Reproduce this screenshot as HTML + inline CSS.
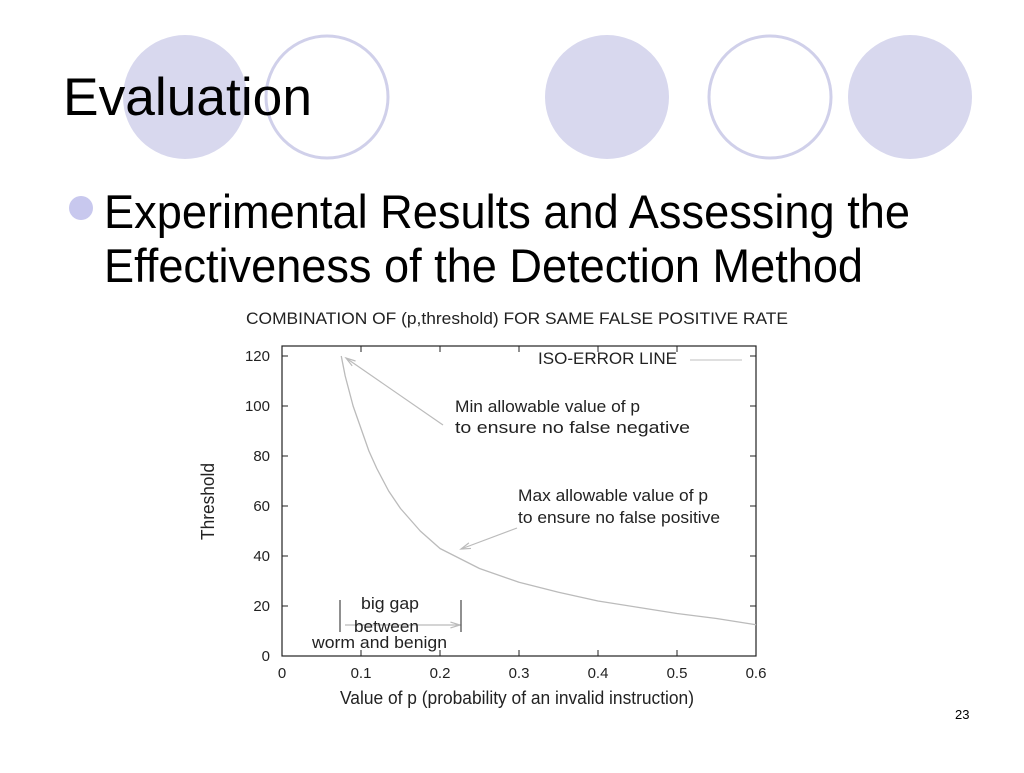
<!DOCTYPE html>
<html><head><meta charset="utf-8"><style>
body{margin:0;width:1024px;height:768px;background:#fff;overflow:hidden;font-family:"Liberation Sans",sans-serif}
</style></head><body>
<svg width="1024" height="768" font-family="Liberation Sans, sans-serif">
<g>
<circle cx="185" cy="97" r="62" fill="#d8d8ee"/>
<circle cx="327" cy="97" r="61" fill="#fff" stroke="#d0d0ea" stroke-width="3"/>
<circle cx="607" cy="97" r="62" fill="#d8d8ee"/>
<circle cx="770" cy="97" r="61" fill="#fff" stroke="#d0d0ea" stroke-width="3"/>
<circle cx="910" cy="97" r="62" fill="#d8d8ee"/>
</g>
<text x="63" y="115" font-size="53" textLength="249" lengthAdjust="spacingAndGlyphs" fill="#000">Evaluation</text>
<circle cx="81" cy="208" r="12" fill="#c8c8ee"/>
<text x="104" y="228" font-size="47" textLength="806" lengthAdjust="spacingAndGlyphs">Experimental Results and Assessing the</text>
<text x="104" y="282" font-size="47" textLength="759" lengthAdjust="spacingAndGlyphs">Effectiveness of the Detection Method</text>
<text x="955" y="719" font-size="13">23</text>
<g id="chart"></g>
</svg>
<script>
const pVals=[0.075,0.08,0.09,0.1,0.11,0.12,0.135,0.15,0.175,0.2,0.25,0.3,0.35,0.4,0.45,0.5,0.55,0.6];
const tVals=[120,112,100,91,82,75,66,59,50,43,35,29.5,25.5,22,19.5,17,15,12.5];
const xTicks=[0,0.1,0.2,0.3,0.4,0.5,0.6];
const yTicks=[0,20,40,60,80,100,120];
const NS="http://www.w3.org/2000/svg";
const L=282,R=756,T=346,B=656;
const X=p=>L+(p/0.6)*(R-L);
const Y=v=>B-(v/124)*(B-T);
const g=document.getElementById('chart');
function mk(tag,at,txt){const e=document.createElementNS(NS,tag);for(const k in at)e.setAttribute(k,at[k]);if(txt!==undefined)e.textContent=txt;g.appendChild(e);return e;}
let e;
e=mk('text',{x:246,y:324,'font-size':17,fill:'#222',textLength:542,lengthAdjust:'spacingAndGlyphs'},'COMBINATION OF (p,threshold) FOR SAME FALSE POSITIVE RATE');


e=mk('rect',{x:L,y:T,width:R-L,height:B-T,fill:'none',stroke:'#222','stroke-width':1.2});


xTicks.forEach(t=>{
 e=mk('line',{x1:X(t),x2:X(t),y1:B,y2:B-6,stroke:'#222'});
 
 
 mk('line',{x1:X(t),x2:X(t),y1:T,y2:T+6,stroke:'#222'});
 e=mk('text',{x:X(t),y:B+22,'font-size':15,'text-anchor':'middle',fill:'#222'},String(t));
 
 
});
yTicks.forEach(t=>{
 e=mk('line',{x1:L,x2:L+6,y1:Y(t),y2:Y(t),stroke:'#222'});
 
 
 mk('line',{x1:R,x2:R-6,y1:Y(t),y2:Y(t),stroke:'#222'});
 e=mk('text',{x:270,y:Y(t)+5,'font-size':15,'text-anchor':'end',fill:'#222'},String(t));
 
 
});
e=mk('text',{x:340,y:704,'font-size':18,fill:'#222',textLength:354,lengthAdjust:'spacingAndGlyphs'},'Value of p (probability of an invalid instruction)');


e=mk('text',{x:0,y:0,'font-size':18,fill:'#222',textLength:77,lengthAdjust:'spacingAndGlyphs',transform:'translate(214 540) rotate(-90)'},'Threshold');


e=mk('polyline',{points:pVals.map((p,i)=>X(p)+','+Y(tVals[i])).join(' '),fill:'none',stroke:'#bbb','stroke-width':1.3,'stroke-linejoin':'round'});


e=mk('text',{x:538,y:364,'font-size':17,fill:'#222',textLength:139,lengthAdjust:'spacingAndGlyphs'},'ISO-ERROR LINE');


mk('line',{x1:690,x2:742,y1:360,y2:360,stroke:'#ccc','stroke-width':1.3});
function arrow(x1,y1,x2,y2){mk('line',{x1,y1,x2,y2,stroke:'#bbb','stroke-width':1.2});const a=Math.atan2(y2-y1,x2-x1),s=10;
 mk('polyline',{points:`${x2-s*Math.cos(a-0.3)},${y2-s*Math.sin(a-0.3)} ${x2},${y2} ${x2-s*Math.cos(a+0.3)},${y2-s*Math.sin(a+0.3)}`,fill:'none',stroke:'#bbb','stroke-width':1.2});}
arrow(443,425,346,358);
arrow(517,528,461,549);
arrow(345,625,460,625);
mk('line',{x1:340,x2:340,y1:600,y2:632,stroke:'#222'});
mk('line',{x1:461,x2:461,y1:600,y2:632,stroke:'#222'});
[['Min allowable value of p',455,412,185],['to ensure no false negative',455,433,235],['Max allowable value of p',518,501,190],['to ensure no false positive',518,523,202]].forEach(a=>{
 e=mk('text',{x:a[1],y:a[2],'font-size':17,fill:'#222',textLength:a[3],lengthAdjust:'spacingAndGlyphs'},a[0]);
 
 
});
[['big gap',361,609,58],['between',354,632,65],['worm and benign',312,648,135]].forEach(a=>{
 e=mk('text',{x:a[1],y:a[2],'font-size':17,fill:'#222',textLength:a[3],lengthAdjust:'spacingAndGlyphs'},a[0]);
 
 
});
</script>
</body></html>
